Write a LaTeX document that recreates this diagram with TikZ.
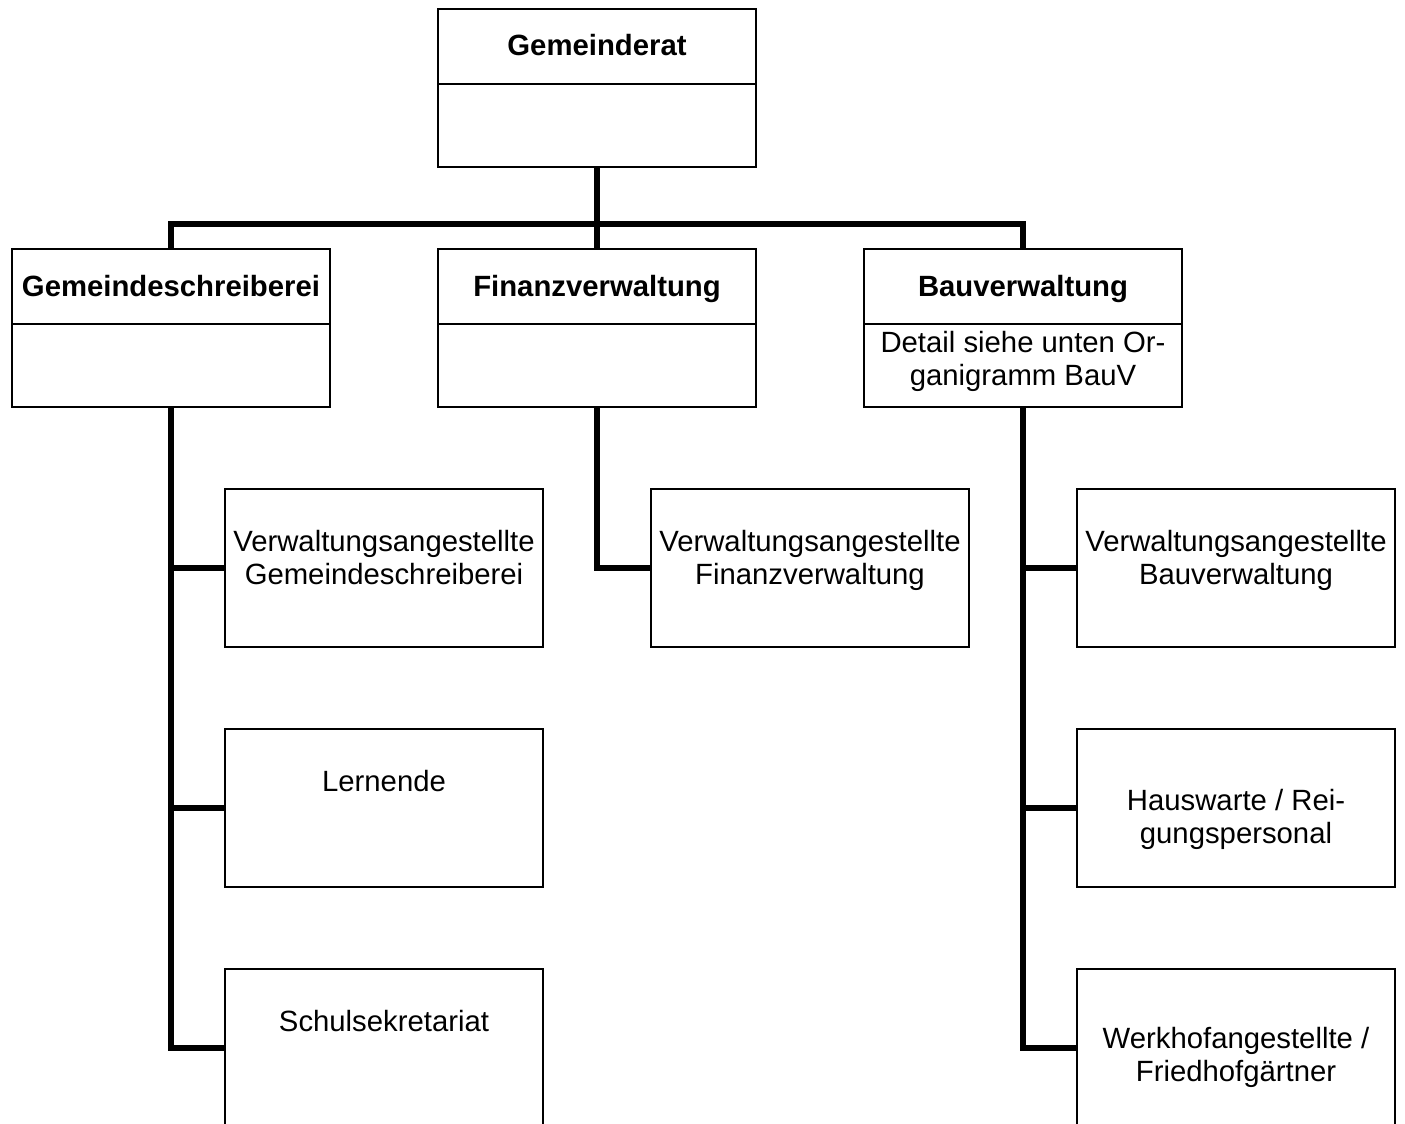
\documentclass[tikz,border=0pt]{standalone}
\usepackage{fontspec}
\setmainfont{Liberation Sans}
\begin{document}
\begin{tikzpicture}[x=1pt,y=-1pt,
  box/.style={draw=black, line width=2pt, minimum width=318pt, minimum height=158pt, inner sep=0pt, anchor=north west},
  conn/.style={draw=black, line width=6pt, line join=miter},
  divider/.style={draw=black, line width=2pt},
  txt/.style={anchor=base, align=center, inner sep=0pt, font=\fontsize{29.3}{33}\selectfont},
  btxt/.style={txt, font=\fontsize{29.3}{33}\selectfont\bfseries}]
\clip (0,0) rectangle (1405,1124);
\fill[white] (0,0) rectangle (1405,1124);
% top
\node[box] (gr) at (437,8) {};
\draw[divider] (gr.west |- 0,83.5) -- (gr.east |- 0,83.5);
\node[btxt] (grt) at (597,56) {Gemeinderat};
% row 2
\node[box] (gs) at (11,248) {};
\node[box] (fv) at (437,248) {};
\node[box] (bv) at (863,248) {};
\draw[divider] (gs.west |- 0,324) -- (gs.east |- 0,324);
\draw[divider] (fv.west |- 0,324) -- (fv.east |- 0,324);
\draw[divider] (bv.west |- 0,324) -- (bv.east |- 0,324);
\node[btxt] (gst) at (171,296) {Gemeindeschreiberei};
\node[btxt] (fvt) at (597,296) {Finanzverwaltung};
\node[btxt] (bvt) at (1023,296) {Bauverwaltung};
\node[txt] (bvd) at (1023,385) {Detail siehe unten Or-\\ganigramm BauV};
% sub boxes
\node[box] (gs1) at (224,488) {};
\node[box] (gs2) at (224,728) {};
\node[box] (gs3) at (224,968) {};
\node[box] (fv1) at (650,488) {};
\node[box] (bv1) at (1076,488) {};
\node[box] (bv2) at (1076,728) {};
\node[box] (bv3) at (1076,968) {};
\node[txt] (gs1t) at (384,584) {Verwaltungsangestellte\\Gemeindeschreiberei};
\node[txt] (gs2t) at (384,791) {Lernende};
\node[txt] (gs3t) at (384,1031) {Schulsekretariat};
\node[txt] (fv1t) at (810,584) {Verwaltungsangestellte\\Finanzverwaltung};
\node[txt] (bv1t) at (1236,584) {Verwaltungsangestellte\\Bauverwaltung};
\node[txt] (bv2t) at (1236,843) {Hauswarte / Rei-\\gungspersonal};
\node[txt] (bv3t) at (1236,1081) {Werkhofangestellte /\\Friedhofgärtner};
% connectors
\coordinate (bus) at (gr.south |- 0,224);
\draw[conn] (gr.south) -- (bus);
\draw[conn] (gs.north) |- (bus) -| (bv.north);
\draw[conn] (bus) -- (fv.north);
\draw[conn] (gs.south) |- (gs3.west);
\draw[conn] (gs.south |- gs1.west) -- (gs1.west);
\draw[conn] (gs.south |- gs2.west) -- (gs2.west);
\draw[conn] (fv.south) |- (fv1.west);
\draw[conn] (bv.south) |- (bv3.west);
\draw[conn] (bv.south |- bv1.west) -- (bv1.west);
\draw[conn] (bv.south |- bv2.west) -- (bv2.west);
\end{tikzpicture}
\end{document}
